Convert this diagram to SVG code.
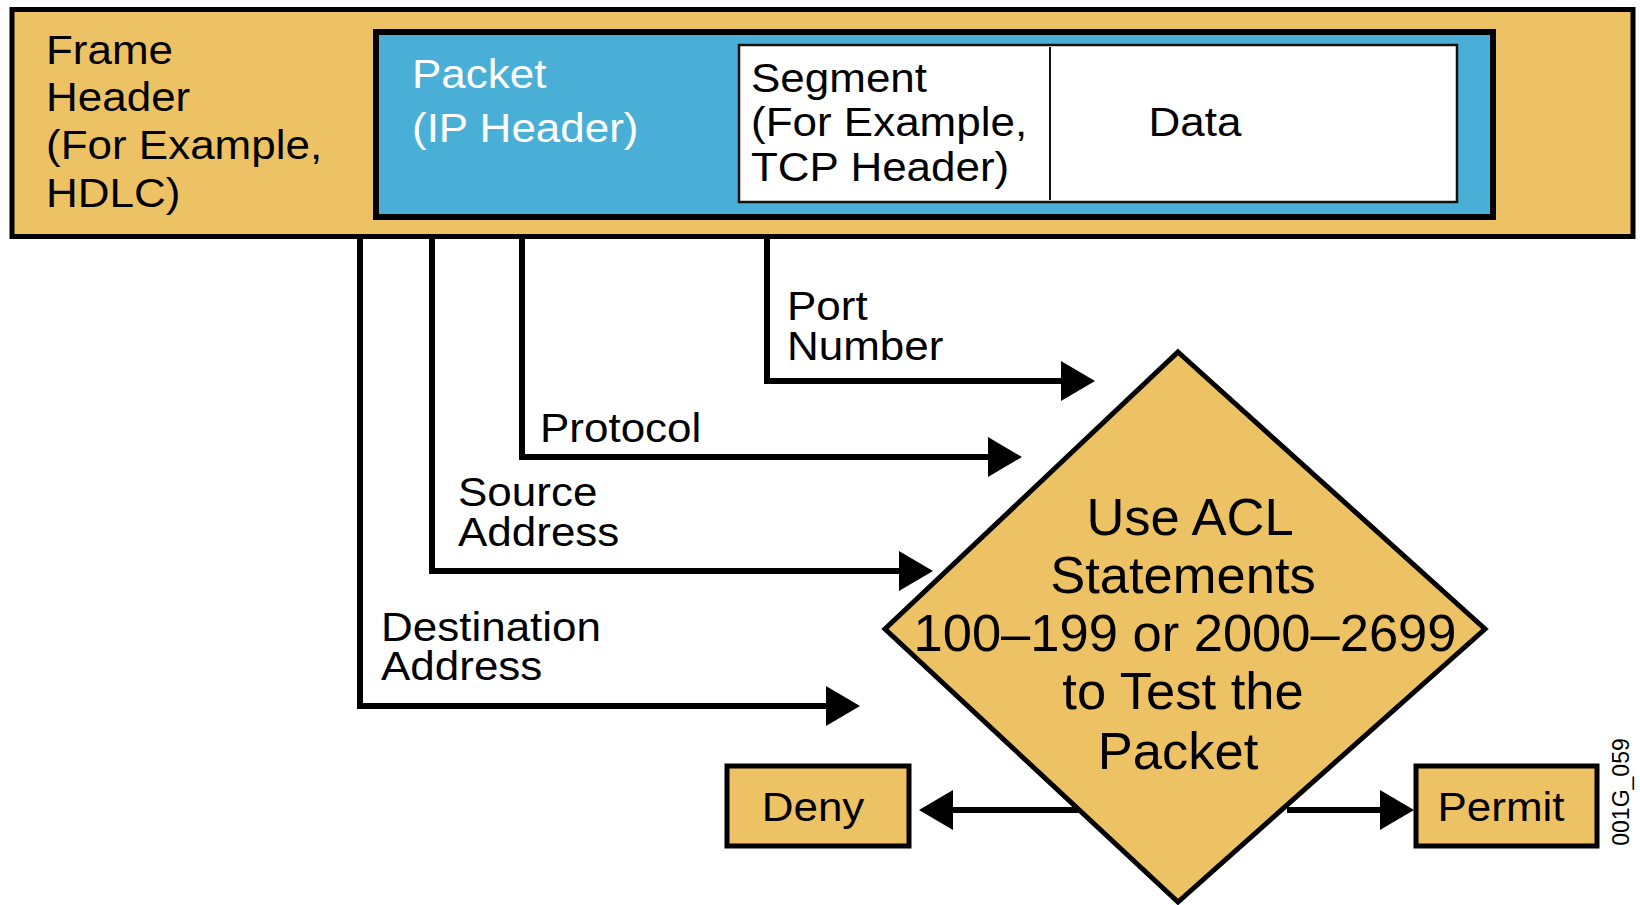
<svg xmlns="http://www.w3.org/2000/svg" width="1640" height="905" viewBox="0 0 1640 905">
<defs>
<style>
.t{font-family:"Liberation Sans",Arial,Helvetica,sans-serif;font-size:41.5px;fill:#000}
.w{fill:#fff}
.d{font-size:52.5px;text-anchor:middle}
.m{text-anchor:middle}
.tan{fill:#EDC265;stroke:#000;stroke-width:5}
.ln{fill:none;stroke:#000;stroke-width:6;stroke-linejoin:miter;stroke-linecap:square}
.id{font-family:"Liberation Sans",Arial,sans-serif;font-size:23px;fill:#000}
</style>
<marker id="ah" markerWidth="34" markerHeight="40" refX="0" refY="20" orient="auto" markerUnits="userSpaceOnUse">
<path d="M0,0 L34,20 L0,40 Z" fill="#000"/>
</marker>
</defs>
<rect width="1640" height="905" fill="#fff"/>
<g id="frame">
<rect class="tan" x="12" y="9.5" width="1621" height="227"/>
<g transform="translate(46,0) scale(1.06,1)"><text class="t"><tspan x="0" y="64">Frame</tspan><tspan x="0" y="111">Header</tspan><tspan x="0" y="159">(For Example,</tspan><tspan x="0" y="207">HDLC)</tspan></text></g>
</g>
<g id="packet">
<rect x="376" y="32" width="1117" height="185" fill="#4AAFD6" stroke="#000" stroke-width="6"/>
<g transform="translate(412,0) scale(1.06,1)"><text class="t w"><tspan x="0" y="88">Packet</tspan><tspan x="0" y="142">(IP Header)</tspan></text></g>
</g>
<g id="segment">
<rect x="739" y="45" width="718" height="157" fill="#fff" stroke="#111" stroke-width="2.5"/>
<line x1="1050" y1="47" x2="1050" y2="200" stroke="#111" stroke-width="2"/>
<g transform="translate(751,0) scale(1.06,1)"><text class="t"><tspan x="0" y="92">Segment</tspan><tspan x="0" y="136">(For Example,</tspan><tspan x="0" y="181">TCP Header)</tspan></text></g>
</g>
<g id="data">
<g transform="translate(1195,0) scale(1.06,1)"><text class="t m" x="0" y="136">Data</text></g>
</g>
<g id="connectors">
<path class="ln" d="M767,239 V381 H1061" marker-end="url(#ah)"/>
<path class="ln" d="M522,239 V457 H988" marker-end="url(#ah)"/>
<path class="ln" d="M432,239 V571 H899" marker-end="url(#ah)"/>
<path class="ln" d="M360,239 V706 H826" marker-end="url(#ah)"/>
<path class="ln" d="M1078,810 H953" marker-end="url(#ah)"/>
<path class="ln" d="M1290,810 H1380" marker-end="url(#ah)"/>
<g transform="translate(787,0) scale(1.06,1)"><text class="t"><tspan x="0" y="320">Port</tspan><tspan x="0" y="360">Number</tspan></text></g>
<g transform="translate(540,0) scale(1.06,1)"><text class="t" x="0" y="442">Protocol</text></g>
<g transform="translate(458,0) scale(1.06,1)"><text class="t"><tspan x="0" y="506">Source</tspan><tspan x="0" y="546">Address</tspan></text></g>
<g transform="translate(381,0) scale(1.06,1)"><text class="t"><tspan x="0" y="641">Destination</tspan><tspan x="0" y="680">Address</tspan></text></g>
</g>
<g id="acl">
<polygon class="tan" points="1178,352 1485,629 1178,902 885,629"/>
<text class="t d"><tspan x="1190" y="535">Use ACL</tspan><tspan x="1183" y="593">Statements</tspan><tspan x="1185" y="651">100–199 or 2000–2699</tspan><tspan x="1183" y="709">to Test the</tspan><tspan x="1178" y="769">Packet</tspan></text>
</g>
<g id="deny">
<rect class="tan" x="727" y="766" width="182" height="80"/>
<g transform="translate(813,0) scale(1.06,1)"><text class="t m" x="0" y="821">Deny</text></g>
</g>
<g id="permit">
<rect class="tan" x="1416" y="766" width="181" height="80"/>
<g transform="translate(1501,0) scale(1.06,1)"><text class="t m" x="0" y="821">Permit</text></g>
</g>
<g id="figid">
<text class="id" x="1629" y="792" text-anchor="middle" transform="rotate(-90 1629 792)">001G_059</text>
</g>
</svg>
